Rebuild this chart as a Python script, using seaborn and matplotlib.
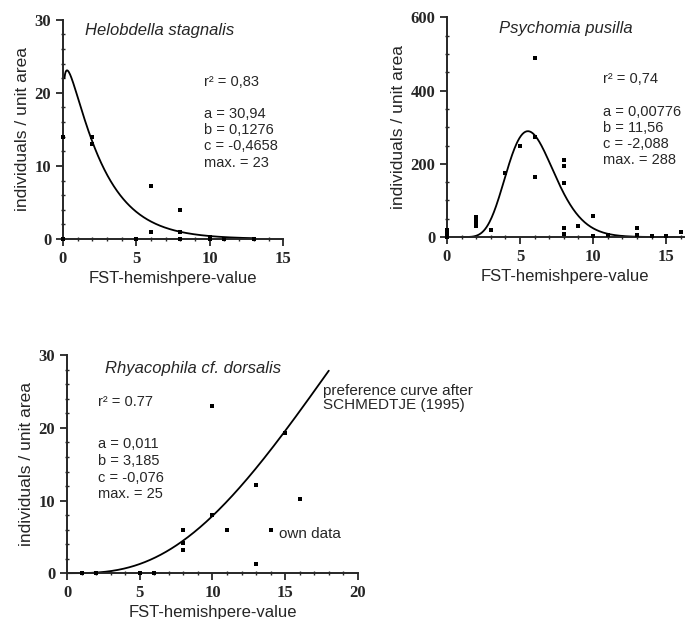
import numpy as np
import pandas as pd
import matplotlib
matplotlib.use("Agg")
import matplotlib.pyplot as plt
from matplotlib.ticker import MultipleLocator
import seaborn as sns

# --- data ---
helo_x = [0, 0, 2, 2, 5, 6, 6, 8, 8, 8, 10, 10, 11, 13]
helo_y = [14, 0, 14, 13, 0, 7.2, 1, 4, 1, 0, 0.3, 0, 0, 0]

psy_x = [0, 0, 0, 2, 2, 2, 2, 3, 4, 5, 6, 6, 6, 8, 8, 8, 8, 8, 9, 10, 10, 11, 13, 13, 14, 15, 16]
psy_y = [0, 10, 20, 55, 45, 38, 30, 20, 175, 250, 490, 272, 165, 210, 195, 148, 25, 8,
         30, 58, 2, 5, 25, 5, 2, 3, 15]

rhy_x = [1, 2, 5, 6, 8, 8, 8, 10, 10, 11, 13, 13, 14, 15, 16]
rhy_y = [0, 0, 0, 0, 6, 4.2, 3.2, 23, 8, 6, 12.2, 1.2, 6, 19.3, 10.2]

# fitted model y = a * x^b * exp(c*x), parameters as printed
helo_fit = (30.94, 0.1276, -0.4658)
psy_fit = (0.0776, 11.56, -2.088)   # printed a = 0,00776; curve peaks at 288
rhy_fit = (0.011, 3.185, -0.076)

helo_txt = "r² = 0,83\n\na = 30,94\nb = 0,1276\nc = -0,4658\nmax. = 23"
psy_txt = "r² = 0,74\n\na = 0,00776\nb = 11,56\nc = -2,088\nmax. = 288"
rhy_r2 = "r² = 0.77"
rhy_txt = "a = 0,011\nb = 3,185\nc = -0,076\nmax. = 25"


def model(x, p):
    a, b, c = p
    return a * x ** b * np.exp(c * x)


sns.set_style("ticks")
plt.rcParams['font.family'] = ['Liberation Sans', 'DejaVu Sans']

fig = plt.figure(figsize=(6.86, 6.19), dpi=100)
ax1 = fig.add_axes([0.0918, 0.614, 0.321, 0.354])
ax2 = fig.add_axes([0.6516, 0.617, 0.345, 0.355])
ax3 = fig.add_axes([0.0977, 0.074, 0.424, 0.352])


def setup(ax, xmax, ymax, xmaj, xmin, ymaj, ymin):
    ax.set_xlim(0, xmax)
    ax.set_ylim(0, ymax)
    ax.xaxis.set_major_locator(MultipleLocator(xmaj))
    ax.xaxis.set_minor_locator(MultipleLocator(xmin))
    ax.yaxis.set_major_locator(MultipleLocator(ymaj))
    ax.yaxis.set_minor_locator(MultipleLocator(ymin))
    for s in ["top", "right"]:
        ax.spines[s].set_visible(False)
    for s in ["left", "bottom"]:
        ax.spines[s].set_linewidth(1.4)
    ax.tick_params(which="major", length=5, width=1.3, direction="out", labelsize=12)
    ax.tick_params(which="minor", length=3, width=1.0, direction="inout")
    for lab in ax.get_xticklabels() + ax.get_yticklabels():
        lab.set_family("Liberation Serif")
        lab.set_fontweight("bold")
    ax.set_xlabel("FST-hemishpere-value", fontsize=12, labelpad=3)
    ax.set_ylabel("individuals / unit area", fontsize=12.5, labelpad=3)


def draw(ax, xs, ys, p, x0, x1):
    sns.scatterplot(x=xs, y=ys, ax=ax, marker="s", s=8, color="black",
                    linewidth=0, clip_on=False, zorder=3)
    xx = np.linspace(x0, x1, 300)
    sns.lineplot(x=xx, y=model(xx, p), ax=ax, color="black", lw=1.3, clip_on=False)


draw(ax1, helo_x, helo_y, helo_fit, 0.1, 13)
setup(ax1, 15, 30, 5, 1, 10, 2)
ax1.text(0.1, 0.985, "Helobdella stagnalis", transform=ax1.transAxes, fontsize=12,
         style="italic", va="top")
ax1.text(0.64, 0.75, helo_txt, transform=ax1.transAxes, fontsize=10.5, va="top",
         linespacing=1.2)

draw(ax2, psy_x, psy_y, psy_fit, 1, 16)
setup(ax2, 16.2, 600, 5, 1, 200, 50)
ax2.text(0.22, 0.985, "Psychomia pusilla", transform=ax2.transAxes, fontsize=12,
         style="italic", va="top")
ax2.text(0.66, 0.75, psy_txt, transform=ax2.transAxes, fontsize=10.5, va="top",
         linespacing=1.2)

draw(ax3, rhy_x, rhy_y, rhy_fit, 0, 18)
setup(ax3, 20, 30, 5, 1, 10, 2)
ax3.text(0.13, 0.975, "Rhyacophila cf. dorsalis", transform=ax3.transAxes, fontsize=12,
         style="italic", va="top")
ax3.text(0.105, 0.82, rhy_r2, transform=ax3.transAxes, fontsize=10.5, va="top")
ax3.text(0.105, 0.625, rhy_txt, transform=ax3.transAxes, fontsize=10.5, va="top",
         linespacing=1.25)
ax3.text(0.88, 0.87, "preference curve after\nSCHMEDTJE (1995)", transform=ax3.transAxes,
         fontsize=11, va="top", linespacing=1.0)
ax3.text(0.73, 0.15, "own data", transform=ax3.transAxes, fontsize=11, va="bottom")

fig.savefig("out.png", dpi=100)
